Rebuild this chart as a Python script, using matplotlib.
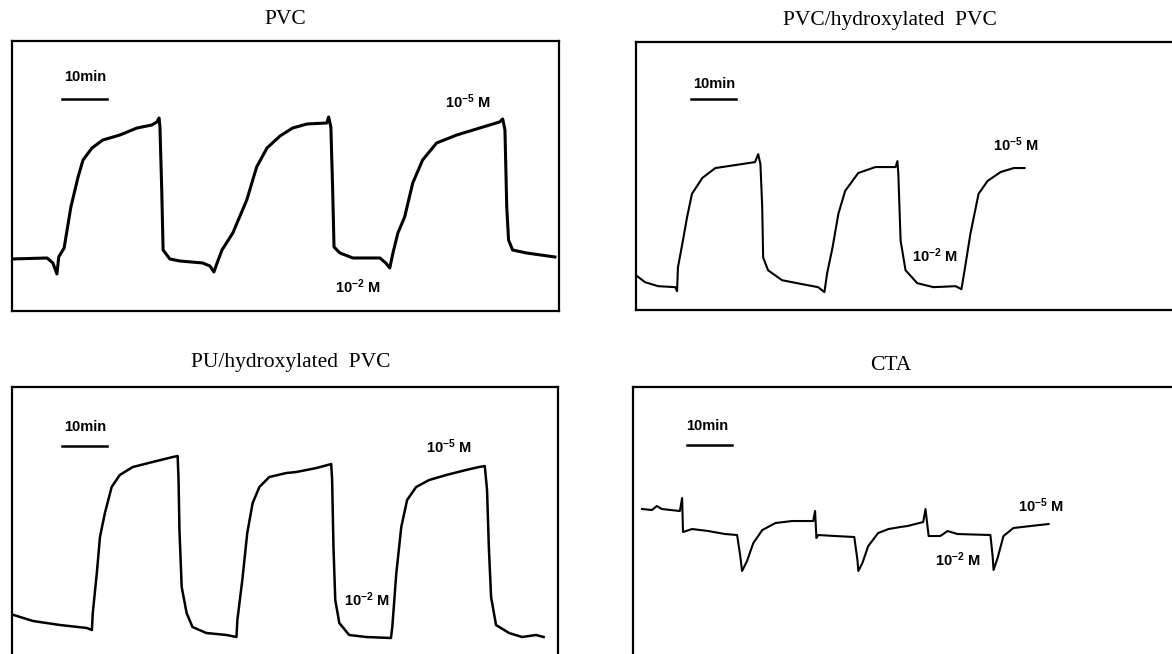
import matplotlib
matplotlib.use("Agg")
from matplotlib import pyplot as plt

plt.rcParams["font.family"] = ["Liberation Sans", "DejaVu Sans"]
plt.rcParams["mathtext.default"] = "regular"

# traces: time in minutes, potential in chart units
pvc_t = [0.0, 7.8, 9.1, 10.0, 10.4, 11.6, 13.1, 14.7, 15.8, 17.8, 20.2, 24.0, 27.8, 31.1, 32.2, 32.7,
         32.9, 33.3, 33.6, 35.1, 37.3, 42.4, 44.0, 44.9, 45.6, 46.7, 49.1, 52.2, 54.4, 56.7, 59.6,
         62.4, 65.6, 70.0, 70.4, 70.9, 71.3, 71.6, 72.9, 75.8, 81.8, 83.1, 84.0, 84.7, 85.8, 87.3,
         89.1, 91.3, 94.4, 98.9, 104.0, 108.4, 109.1, 109.6, 110.0, 110.4, 111.3, 114.4, 120.7]
pvc_e = [52, 53, 48, 37, 54, 63, 104, 134, 151, 163, 171, 176, 183, 186, 189, 193,
         184, 121, 61, 52, 50, 48, 45, 39, 48, 61, 78, 111, 144, 163, 175,
         183, 187, 188, 194, 184, 121, 64, 58, 53, 53, 48, 43, 58, 78, 94,
         128, 151, 168, 176, 183, 189, 192, 181, 104, 71, 61, 58, 54]

pvch_t = [0.0, 2.0, 4.9, 8.7, 9.1, 9.3, 10.4, 11.3, 12.4, 14.7, 17.6, 22.0, 26.4, 27.1, 27.6, 28.0,
          28.2, 29.3, 32.4, 36.9, 40.4, 41.8, 42.4, 43.6, 44.9, 46.4, 49.3, 53.1, 57.6, 58.0, 58.2,
          58.7, 59.8, 62.4, 66.0, 70.9, 72.2, 72.9, 74.2, 76.0, 78.0, 80.9, 83.8, 86.2]
pvch_e = [35, 28, 24, 23, 19, 43, 70, 93, 117, 133, 143, 146, 149, 157, 147, 103,
          53, 40, 30, 26, 23, 18, 37, 63, 97, 120, 138, 144, 144, 150, 137,
          70, 40, 27, 23, 24, 21, 40, 77, 117, 130, 139, 143, 143]

pu_t = [0.4, 4.7, 10.7, 16.7, 17.8, 18.0, 18.9, 19.6, 20.7, 22.2, 24.0, 26.9, 31.3, 35.8, 36.9, 37.1,
        37.3, 37.8, 38.9, 40.2, 43.3, 47.8, 50.0, 50.2, 51.3, 52.4, 53.6, 55.1, 57.3, 61.1, 63.3,
        67.8, 71.1, 71.3, 71.6, 72.0, 72.9, 75.1, 78.9, 84.4, 84.7, 85.6, 86.7, 88.0, 90.0, 92.9,
        96.7, 101.1, 104.0, 105.3, 105.8, 106.2, 106.7, 107.8, 110.7, 113.6, 116.7, 118.4]
pu_e = [42, 36, 32, 29, 27, 44, 84, 120, 144, 170, 182, 190, 195, 200, 201, 177,
        127, 70, 44, 30, 24, 22, 20, 37, 77, 124, 154, 170, 180, 184, 185,
        189, 193, 177, 110, 57, 34, 22, 20, 19, 30, 84, 130, 157, 170, 177,
        182, 187, 190, 191, 167, 110, 60, 32, 24, 20, 22, 20]

cta_t = [2.0, 4.2, 5.3, 6.4, 10.4, 10.9, 11.1, 13.1, 16.7, 20.4, 23.1, 23.8, 24.2, 25.3, 26.7, 28.7,
         31.6, 35.3, 40.0, 40.4, 40.7, 41.1, 44.9, 49.1, 49.8, 50.0, 50.9, 52.2, 54.4, 56.7, 59.3,
         60.9, 64.4, 64.9, 65.6, 68.2, 69.8, 72.0, 79.3, 79.8, 80.0, 80.9, 82.2, 84.4, 88.2, 92.2]
cta_e = [148, 147, 151, 148, 146, 159, 125, 128, 126, 123, 122, 101, 86, 96, 114, 127,
         134, 136, 136, 146, 119, 122, 121, 120, 97, 86, 94, 111, 124, 128, 130,
         131, 135, 148, 121, 121, 126, 123, 122, 101, 87, 99, 121, 129, 131, 133]

titles = ["PVC", "PVC/hydroxylated  PVC", "PU/hydroxylated  PVC", "CTA"]
times = [pvc_t, pvch_t, pu_t, cta_t]
emfs = [pvc_e, pvch_e, pu_e, cta_e]

# panel layout (figure fractions) and label placements (data coords)
boxes = [[0.0102, 0.5245, 0.4667, 0.4128],
         [0.5427, 0.5260, 0.4676, 0.4098],
         [0.0102, -0.0046, 0.4659, 0.4128],
         [0.5401, -0.0046, 0.4676, 0.4128]]
title_pos = [(0.50, 1.08), (0.463, 1.08), (0.51, 1.09), (0.47, 1.08)]
min_lbl = [(16.2, 234), (17.3, 228), (16.2, 230), (16.4, 231)]
bar_pos = [(11.1, 212), (12.2, 213), (11.1, 211), (12.0, 212)]
hi_lbl = [(101.3, 209), (84.2, 167), (97.3, 210), (90.4, 151)]
lo_lbl = [(76.9, 24), (66.4, 55), (79.1, 57), (72.0, 97)]
widths = [2.2, 1.5, 1.8, 1.5]

fig = plt.figure(figsize=(11.72, 6.54), dpi=100)

for i in range(4):
    ax = fig.add_axes(boxes[i])
    ax.plot(times[i], emfs[i], color="black", linewidth=widths[i], solid_joinstyle="round")
    ax.set_xlim(0, 121.6)
    ax.set_ylim(0, 270)
    ax.set_xticks([])
    ax.set_yticks([])
    for sp in ax.spines.values():
        sp.set_linewidth(1.6)
    ax.text(*title_pos[i], titles[i], transform=ax.transAxes, ha="center", va="center",
            family=["Liberation Serif", "DejaVu Serif"], fontsize=15.5)

    ax.text(*min_lbl[i], "10min", ha="center", va="center", fontsize=10.5, fontweight="bold")
    bx, by = bar_pos[i]
    ax.plot([bx, bx + 10], [by, by], color="black", linewidth=1.8)
    ax.text(*hi_lbl[i], r"10$^{-5}$ M", ha="center", va="center", fontsize=10.5, fontweight="bold")
    ax.text(*lo_lbl[i], r"10$^{-2}$ M", ha="center", va="center", fontsize=10.5, fontweight="bold")

plt.savefig("out.png", dpi=100)
